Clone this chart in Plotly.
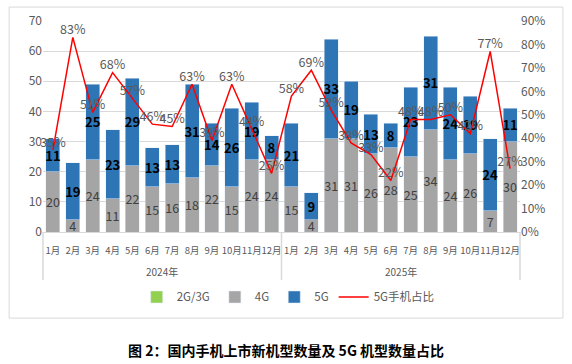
import plotly.graph_objects as go

year_names = ["2024年", "2025年"]
month_names = ["1月", "2月", "3月", "4月", "5月", "6月", "7月", "8月", "9月", "10月", "11月", "12月"]
categories = [f"{y}{m}" for y in year_names for m in month_names]
tick_labels = month_names * 2
g23 = [0] * 24
g4 = [20, 4, 24, 11, 22, 15, 16, 18, 22, 15, 24, 24,
      15, 4, 31, 31, 26, 28, 25, 34, 24, 26, 7, 30]
g5 = [11, 19, 25, 23, 29, 13, 13, 31, 14, 26, 19, 8,
      21, 9, 33, 19, 13, 8, 23, 31, 24, 19, 24, 11]
share = [35, 83, 51, 68, 57, 46, 45, 63, 39, 63, 44, 25,
         58, 69, 52, 38, 33, 22, 48, 48, 50, 42, 77, 27]

FONT = "Noto Sans CJK SC"
GRID = "#d9d9d9"
x = categories

fig = go.Figure()
fig.add_trace(go.Bar(x=x, y=g23, name="2G/3G", marker_color="#92d050"))
fig.add_trace(go.Bar(x=x, y=g4, name="4G", marker_color="#a5a5a5",
                     text=[str(v) for v in g4], textposition="inside",
                     insidetextanchor="middle", constraintext="none", textangle=0,
                     textfont=dict(family=FONT, size=12.5, color="#404040")))
fig.add_trace(go.Bar(x=x, y=g5, name="5G", marker_color="#2e75b6",
                     text=[f"<b>{v}</b>" for v in g5], textposition="inside",
                     insidetextanchor="middle", constraintext="none", textangle=0,
                     textfont=dict(family=FONT, size=13, color="#000000")))
fig.add_trace(go.Scatter(x=x, y=[s / 100 for s in share], name="5G手机占比",
                         mode="lines+text", yaxis="y2",
                         line=dict(color="#ff0000", width=1.5),
                         text=[f"{s}%" for s in share], textposition="top center",
                         textfont=dict(family=FONT, size=12.5, color="#595959"),
                         cliponaxis=False))

div_y = (232 - 280) / 211
shapes = [dict(type="rect", xref="paper", yref="paper",
               x0=-0.071, x1=1.09, y0=-0.408, y1=1.066,
               line=dict(color=GRID, width=1))]
for xp in (0, 0.5, 1):
    shapes.append(dict(type="line", xref="paper", yref="paper",
                       x0=xp, x1=xp, y0=0, y1=div_y,
                       line=dict(color=GRID, width=1.5)))

annotations = [dict(text=yn, xref="paper", yref="paper", x=xc, y=(232 - 271) / 211,
                    showarrow=False, xanchor="center", yanchor="middle",
                    font=dict(family=FONT, size=10, color="#595959"))
               for yn, xc in zip(year_names, (0.25, 0.75))]
annotations.append(dict(text="<b>图 2：国内手机上市新机型数量及 5G 机型数量占比</b>",
                        xref="paper", yref="paper", x=0.51, y=-0.559,
                        showarrow=False, xanchor="center", yanchor="middle",
                        font=dict(family=FONT, size=14, color="#000000")))

fig.update_layout(
    width=572, height=364,
    margin=dict(l=43, r=52, t=21, b=132, autoexpand=False),
    paper_bgcolor="white", plot_bgcolor="white",
    barmode="stack", bargap=0.3,
    font=dict(family=FONT, size=12, color="#595959"),
    showlegend=True,
    legend=dict(orientation="h", x=0.514, xanchor="center", y=-0.308, yanchor="middle",
                font=dict(family=FONT, size=11.5, color="#595959"),
                traceorder="normal"),
    xaxis=dict(type="category", range=[-0.5, 23.5], autorange=False,
               tickvals=categories, ticktext=tick_labels,
               showgrid=False, showline=True, automargin=False,
               linecolor=GRID, tickangle=0, ticklabelstandoff=10,
               tickfont=dict(family=FONT, size=9.5, color="#595959"), ticks=""),
    yaxis=dict(range=[0, 70], dtick=10, showgrid=True, gridcolor=GRID,
               zeroline=False, automargin=False,
               tickfont=dict(family=FONT, size=12, color="#595959")),
    yaxis2=dict(range=[0, 0.9], dtick=0.1, tickformat=".0%", overlaying="y",
                side="right", showgrid=False, zeroline=False, automargin=False,
                tickfont=dict(family=FONT, size=12, color="#595959")),
    shapes=shapes,
    annotations=annotations,
)

fig.write_html("out.html", config={"displayModeBar": False},
               post_script="document.body.style.margin='0';document.body.style.overflow='hidden';")
